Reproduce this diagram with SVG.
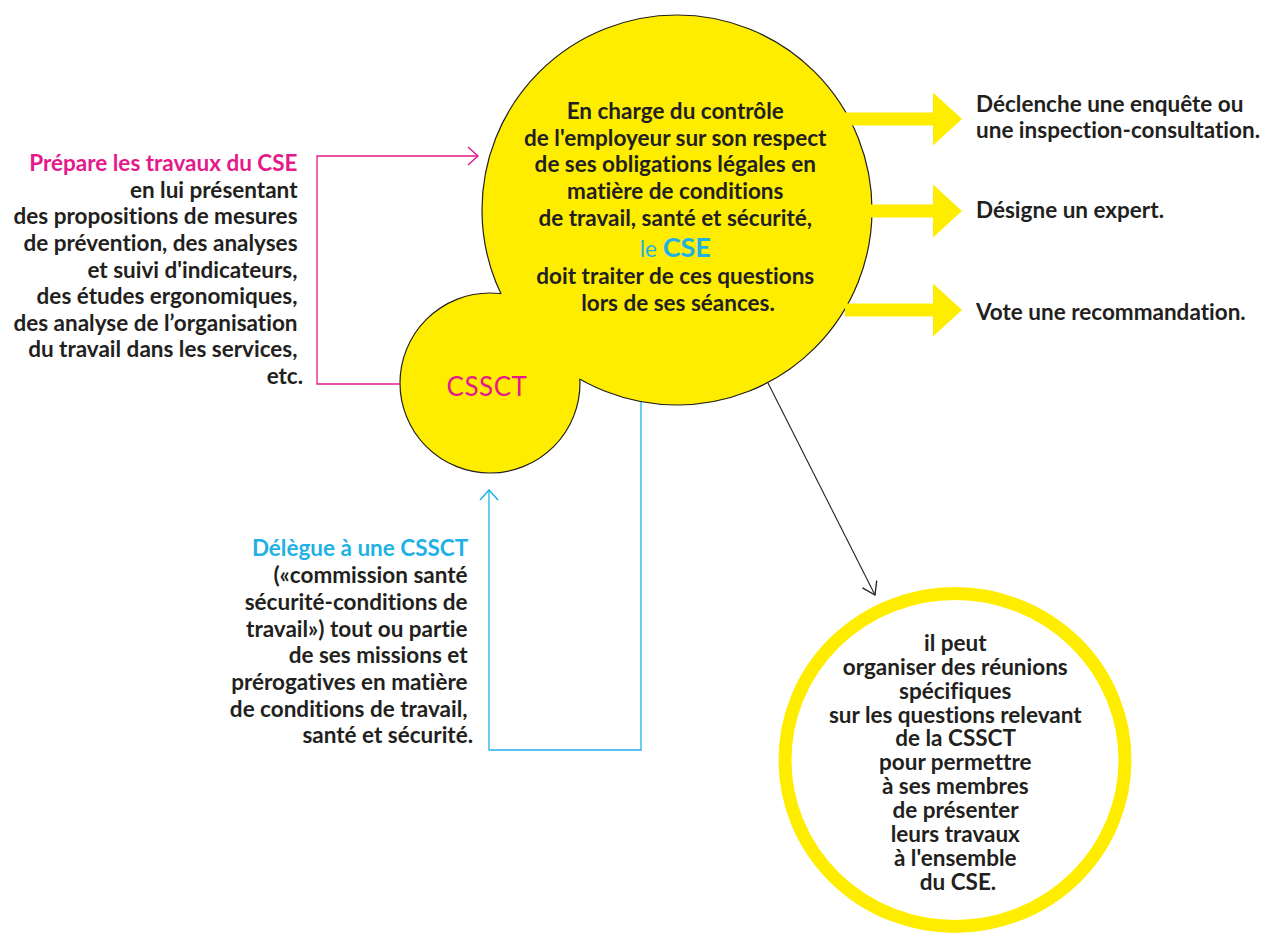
<svg xmlns="http://www.w3.org/2000/svg" width="1261" height="935" viewBox="0 0 1261 935">
<style>
.t{font-family:Lato,"Liberation Sans",sans-serif;font-weight:700;font-size:22.5px;fill:#231f20;font-variant-ligatures:none;font-feature-settings:"liga" 0}
.pink{fill:#e5198a}
.blue{fill:#1fb1e6}
.blob{fill:#ffed00;stroke:#231f20;stroke-width:1.2}
.fillonly{fill:#ffed00}
.yarrow{fill:#ffed00}
</style>
<defs>
<clipPath id="outsideBig">
<path clip-rule="evenodd" d="M0,0H1261V935H0Z M677,210m-195,0a195,195 0 1,0 390,0a195,195 0 1,0 -390,0Z"/>
</clipPath>
<marker id="mPink" viewBox="0 0 12 20" refX="11" refY="10" markerWidth="12" markerHeight="20" markerUnits="userSpaceOnUse" orient="auto">
<path d="M1,1 L11,10 L1,19" fill="none" stroke="#e5198a" stroke-width="1.5"/>
</marker>
<marker id="mBlue" viewBox="0 0 12 20" refX="11" refY="10" markerWidth="12" markerHeight="20" markerUnits="userSpaceOnUse" orient="auto">
<path d="M1,1 L11,10 L1,19" fill="none" stroke="#1fb1e6" stroke-width="1.5"/>
</marker>
<marker id="mBlack" viewBox="0 0 14 20" refX="13" refY="10" markerWidth="14" markerHeight="20" markerUnits="userSpaceOnUse" orient="auto">
<path d="M1,2 L13,10 L1,18" fill="none" stroke="#231f20" stroke-width="1.3"/>
</marker>
</defs>

<g id="cse">
<circle class="blob" cx="677" cy="210" r="195"/>
<text class="t" text-anchor="middle">
<tspan x="678" y="119">En charge du contrôle</tspan>
<tspan x="678" y="146">de l'employeur sur son respect</tspan>
<tspan x="678" y="172">de ses obligations légales en</tspan>
<tspan x="678" y="199">matière de conditions</tspan>
<tspan x="678" y="226">de travail, santé et sécurité,</tspan>
<tspan x="678" y="257" class="blue" style="font-weight:400">le <tspan style="font-weight:700;font-size:27px">CSE</tspan></tspan>
<tspan x="678" y="284">doit traiter de ces questions</tspan>
<tspan x="678" y="311">lors de ses séances.</tspan>
</text>
</g>

<g id="cssct">
<circle class="fillonly" cx="490" cy="383" r="90"/>
<circle cx="490" cy="383" r="90" fill="none" stroke="#231f20" stroke-width="1.2" clip-path="url(#outsideBig)"/>
<text class="t pink" x="487" y="396" text-anchor="middle" style="font-weight:400;font-size:26px;letter-spacing:0.5px">CSSCT</text>
</g>

<g id="prepare">
<text class="t" text-anchor="end">
<tspan x="303" y="171" class="pink">Prépare les travaux du CSE</tspan>
<tspan x="303" y="198">en lui présentant</tspan>
<tspan x="303" y="224">des propositions de mesures</tspan>
<tspan x="303" y="251">de prévention, des analyses</tspan>
<tspan x="303" y="278">et suivi d'indicateurs,</tspan>
<tspan x="303" y="304">des études ergonomiques,</tspan>
<tspan x="303" y="331">des analyse de l’organisation</tspan>
<tspan x="303" y="357">du travail dans les services,</tspan>
<tspan x="303" y="384">etc.</tspan>
</text>
</g>

<g id="delegue">
<text class="t" text-anchor="end">
<tspan x="473" y="556" class="blue">Délègue à une CSSCT</tspan>
<tspan x="473" y="583">(«commission santé</tspan>
<tspan x="473" y="610">sécurité-conditions de</tspan>
<tspan x="473" y="637">travail») tout ou partie</tspan>
<tspan x="473" y="663">de ses missions et</tspan>
<tspan x="473" y="690">prérogatives en matière</tspan>
<tspan x="473" y="717">de conditions de travail,</tspan>
<tspan x="473" y="743">santé et sécurité.</tspan>
</text>
</g>

<g id="enquete">
<text class="t"><tspan x="976" y="112">Déclenche une enquête ou</tspan><tspan x="976" y="138">une inspection-consultation.</tspan></text>
</g>
<g id="expert">
<text class="t" x="976" y="218">Désigne un expert.</text>
</g>
<g id="recommandation">
<text class="t" x="976" y="320">Vote une recommandation.</text>
</g>

<g id="reunions">
<ellipse cx="955" cy="760" rx="170" ry="166.5" fill="none" stroke="#ffed00" stroke-width="13"/>
<text class="t" text-anchor="middle">
<tspan x="958" y="651">il peut</tspan>
<tspan x="958" y="675">organiser des réunions</tspan>
<tspan x="958" y="699">spécifiques</tspan>
<tspan x="958" y="723">sur les questions relevant</tspan>
<tspan x="958" y="746">de la CSSCT</tspan>
<tspan x="958" y="770">pour permettre</tspan>
<tspan x="958" y="794">à ses membres</tspan>
<tspan x="958" y="818">de présenter</tspan>
<tspan x="958" y="842">leurs travaux</tspan>
<tspan x="958" y="866">à l'ensemble</tspan>
<tspan x="958" y="890">du CSE.</tspan>
</text>
</g>

<g id="connectors">
<path class="yarrow" d="M845,112.5H933V92.5L962,119L933,145.5V125.5H845Z"/>
<path class="yarrow" d="M845,204.5H933V184.5L962,211L933,237.5V217.5H845Z"/>
<path class="yarrow" d="M845,303.5H933V283.5L962,310L933,336.5V316.5H845Z"/>
<polyline points="400,384 317,384 317,156 478,156" fill="none" stroke="#e5198a" stroke-width="1.3" marker-end="url(#mPink)"/>
<polyline points="641,402 641,750 489,750 489,490" fill="none" stroke="#1fb1e6" stroke-width="1.3" marker-end="url(#mBlue)"/>
<line x1="768" y1="383" x2="875" y2="595" stroke="#231f20" stroke-width="1.1" marker-end="url(#mBlack)"/>
</g>
</svg>
